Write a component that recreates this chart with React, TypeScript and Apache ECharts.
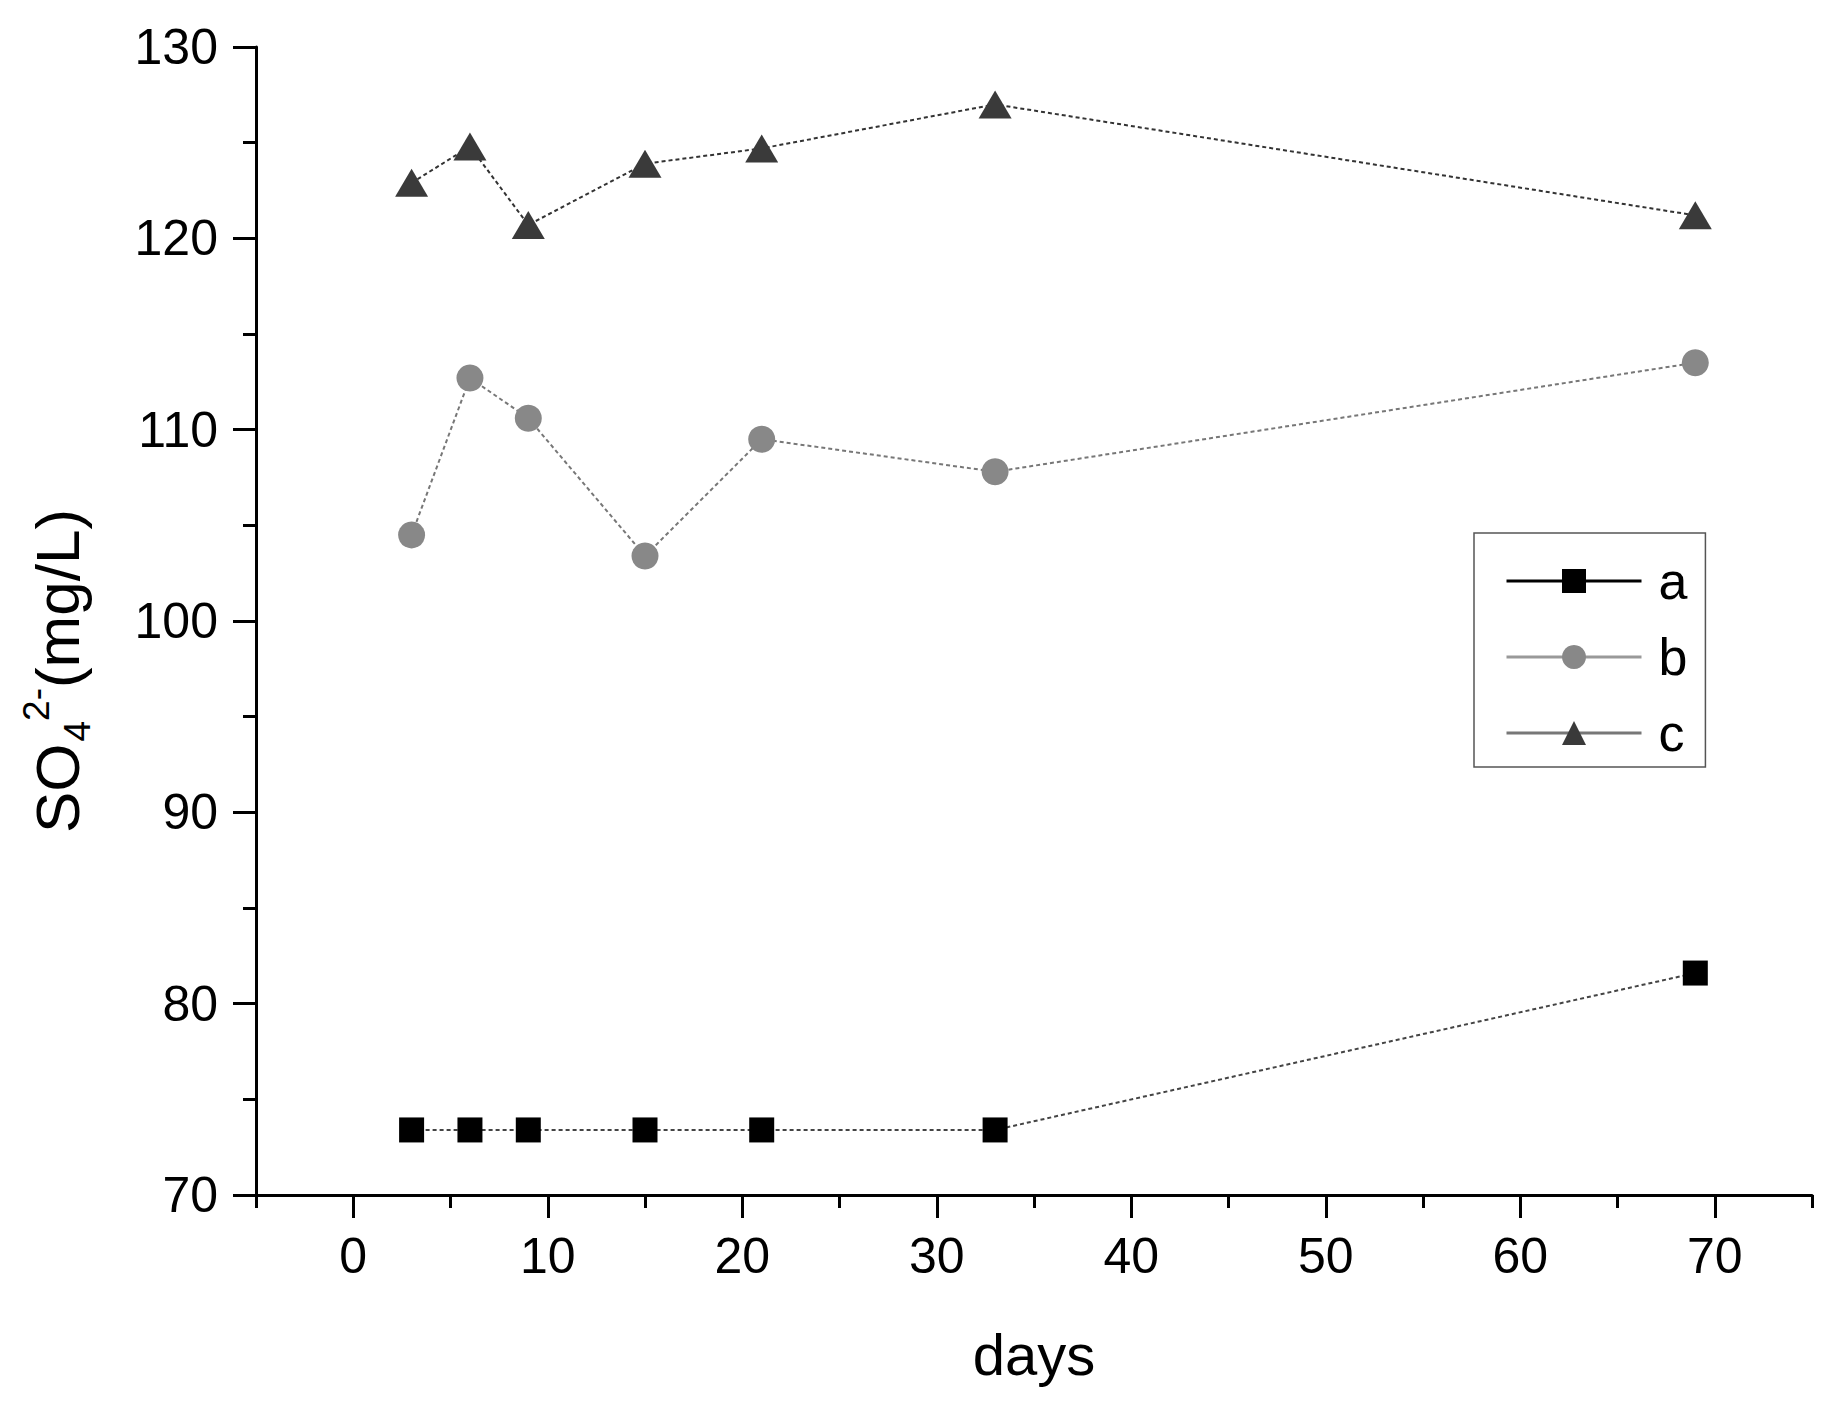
import React, { useEffect, useRef } from "react";
import * as echarts from "echarts";

const days = [3, 6, 9, 15, 21, 33, 69];
const seriesA = [73.4, 73.4, 73.4, 73.4, 73.4, 73.4, 81.6];
const seriesB = [104.5, 112.7, 110.6, 103.4, 109.5, 107.8, 113.5];
const seriesC = [122.9, 124.8, 120.7, 123.9, 124.7, 127.0, 121.2];

const xMajorTicks = [0, 10, 20, 30, 40, 50, 60, 70];
const xMinorTicks = [-5, 5, 15, 25, 35, 45, 55, 65, 75];
const yMajorTicks = [70, 80, 90, 100, 110, 120, 130];
const yMinorTicks = [75, 85, 95, 105, 115, 125];

const seriesNames = ["a", "b", "c"];

const FONT = "'Liberation Sans', Arial, sans-serif";

function pairs(xs: number[], ys: number[]) {
  return xs.map((x, i) => [x, ys[i]]);
}

export default function App() {
  const ref = useRef<HTMLDivElement>(null);
  useEffect(() => {
    document.body.style.margin = "0";
    document.body.style.overflow = "hidden";
    const chart = echarts.init(ref.current!, null, { renderer: "svg" });
    const axisLine = { show: true, onZero: false, lineStyle: { color: "#000", width: 3 } };
    const option: any = {
      animation: false,
      backgroundColor: "#fff",
      textStyle: { fontFamily: FONT },
      grid: { left: 256, right: 27, top: 47, bottom: 210, containLabel: false },
      xAxis: [
        {
          type: "value",
          min: -5,
          max: 75,
          position: "bottom",
          axisLine,
          axisTick: { show: true, customValues: xMajorTicks, length: 23, lineStyle: { color: "#000", width: 3 } },
          axisLabel: { customValues: xMajorTicks, fontSize: 50, color: "#000", margin: 36, fontFamily: FONT },
          splitLine: { show: false },
          name: "days",
          nameLocation: "middle",
          nameGap: 130,
          nameTextStyle: { fontSize: 58, color: "#000", fontFamily: FONT },
        },
        {
          type: "value",
          min: -5,
          max: 75,
          position: "bottom",
          axisLine: { show: false, onZero: false },
          axisTick: { show: true, customValues: xMinorTicks, length: 13, lineStyle: { color: "#000", width: 3 } },
          axisLabel: { show: false },
          splitLine: { show: false },
        },
      ],
      yAxis: [
        {
          type: "value",
          min: 70,
          max: 130,
          position: "left",
          axisLine,
          axisTick: { show: true, customValues: yMajorTicks, length: 23, lineStyle: { color: "#000", width: 3 } },
          axisLabel: { customValues: yMajorTicks, fontSize: 50, color: "#000", margin: 38, fontFamily: FONT },
          splitLine: { show: false },
        },
        {
          type: "value",
          min: 70,
          max: 130,
          position: "left",
          axisLine: { show: false, onZero: false },
          axisTick: { show: true, customValues: yMinorTicks, length: 13, lineStyle: { color: "#000", width: 3 } },
          axisLabel: { show: false },
          splitLine: { show: false },
        },
      ],
      legend: {
        orient: "vertical",
        left: 1474,
        top: 533,
        padding: [22, 18, 8, 31],
        itemWidth: 135,
        itemHeight: 30,
        itemGap: 24,
        borderColor: "#555",
        borderWidth: 1.5,
        textStyle: { fontSize: 52, color: "#000", fontFamily: FONT, padding: [0, 0, 0, 12] },
        lineStyle: { type: "solid" },
        data: [
          { name: seriesNames[0], lineStyle: { color: "#000", width: 3, type: "solid" } },
          { name: seriesNames[1], lineStyle: { color: "#999", width: 3, type: "solid" } },
          { name: seriesNames[2], lineStyle: { color: "#777", width: 3, type: "solid" } },
        ],
      },
      graphic: [
        {
          type: "text",
          x: 57,
          y: 671,
          rotation: Math.PI / 2,
          style: {
            text: "{m|SO}{sub|4}{sup|2-}{m|(mg/L)}",
            align: "center",
            verticalAlign: "middle",
            fill: "#000",
            font: `62px ${FONT}`,
            rich: {
              m: { fontSize: 62, fontFamily: FONT, fill: "#000", lineHeight: 78, verticalAlign: "middle" },
              sub: { fontSize: 37, fontFamily: FONT, fill: "#000", lineHeight: 78, verticalAlign: "bottom", padding: [0, 0, 0, 2] },
              sup: { fontSize: 37, fontFamily: FONT, fill: "#000", lineHeight: 78, verticalAlign: "top" },
            },
          },
        },
      ],
      series: [
        {
          name: seriesNames[0],
          type: "line",
          xAxisIndex: 0,
          yAxisIndex: 0,
          data: pairs(days, seriesA),
          symbol: "rect",
          symbolSize: 25,
          itemStyle: { color: "#000" },
          lineStyle: { color: "#444", width: 2, type: [4, 3] },
        },
        {
          name: seriesNames[1],
          type: "line",
          xAxisIndex: 0,
          yAxisIndex: 0,
          data: pairs(days, seriesB),
          symbol: "circle",
          symbolSize: 27,
          itemStyle: { color: "#888" },
          lineStyle: { color: "#777", width: 2, type: [4, 3] },
        },
        {
          name: seriesNames[2],
          type: "line",
          xAxisIndex: 0,
          yAxisIndex: 0,
          data: pairs(days, seriesC),
          symbol: "triangle",
          symbolSize: [33, 28],
          itemStyle: { color: "#3a3a3a" },
          lineStyle: { color: "#333", width: 2, type: [4, 3] },
        },
      ],
    };
    chart.setOption(option);
    return () => chart.dispose();
  }, []);
  return (
    <div
      ref={ref}
      style={{ position: "absolute", left: 0, top: 0, width: 1839, height: 1405, background: "#fff" }}
    />
  );
}
